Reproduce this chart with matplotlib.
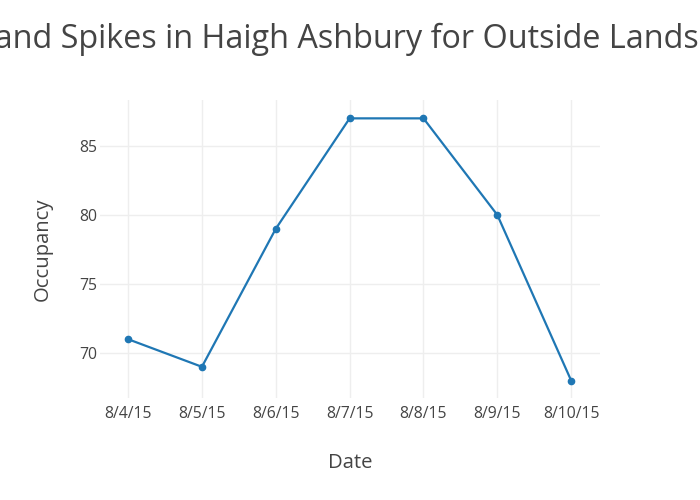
import matplotlib
matplotlib.use("Agg")
import matplotlib.pyplot as plt

dates = ['8/4/15', '8/5/15', '8/6/15', '8/7/15', '8/8/15', '8/9/15', '8/10/15']
occupancy = [71, 69, 79, 87, 87, 80, 68]
yticks = [70, 75, 80, 85]

plt.rcParams['font.family'] = ['Open Sans', 'DejaVu Sans']
text_color = '#444444'

fig = plt.figure(figsize=(7, 5), dpi=100)
ax = fig.add_axes([100 / 700, 1 - 398 / 500, 500 / 700, 298 / 500])

xs = list(range(len(dates)))
ax.plot(xs, occupancy, color='#1f77b4', lw=1.6, marker='o', markersize=4.5, zorder=3)

ax.set_xlim(-0.38, len(dates) - 1 + 0.39)
ax.set_ylim(66.74, 88.33)
ax.set_xticks(xs)
ax.set_xticklabels(dates)
ax.set_yticks(yticks)

ax.grid(True, color='#eeeeee', lw=1)
ax.set_axisbelow(True)
for s in ax.spines.values():
    s.set_visible(False)
ax.tick_params(axis='both', length=0, labelsize=11.3, labelcolor=text_color)
ax.tick_params(axis='x', pad=6)
ax.tick_params(axis='y', pad=2)

# title is wider than the figure, clipped at both sides like the original
fig.text(352 / 700, 1 - 39 / 500, 'Demand Spikes in Haigh Ashbury for Outside Lands 2015',
         ha='center', va='center', fontsize=23.3, color=text_color)
fig.text(350 / 700, 1 - 463 / 500, 'Date', ha='center', va='center',
         fontsize=14.6, color=text_color)
fig.text(43 / 700, 1 - 249 / 500, 'Occupancy', ha='center', va='center',
         rotation=90, fontsize=14.6, color=text_color)

fig.savefig('out.png', dpi=100, facecolor='white')
